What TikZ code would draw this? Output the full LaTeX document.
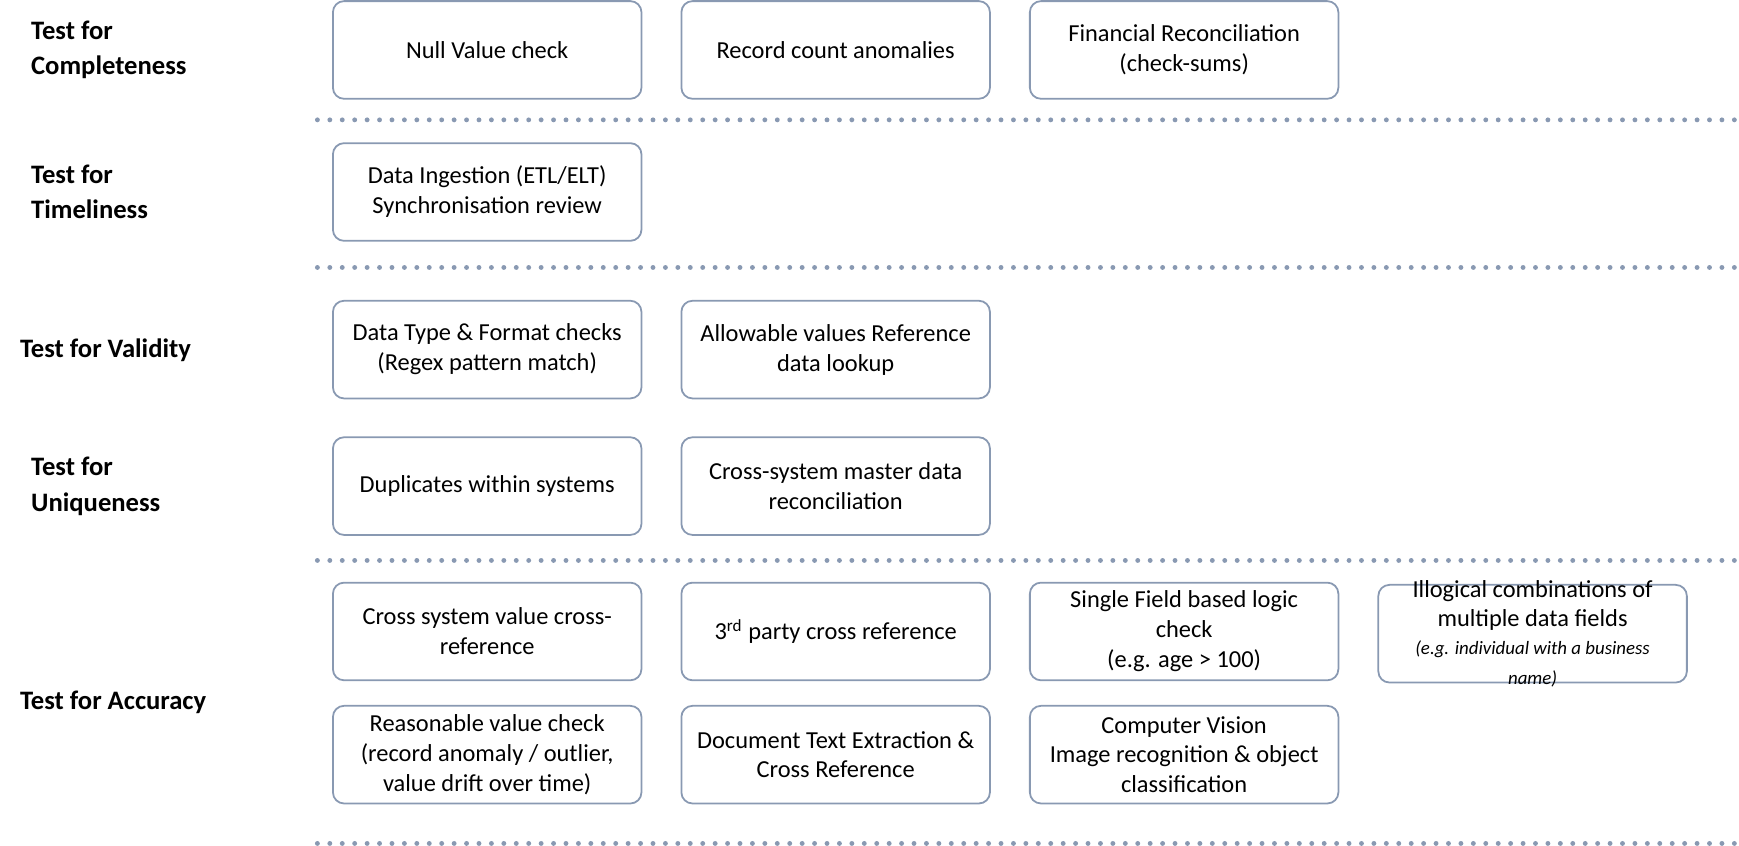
\documentclass[tikz,border=0pt]{standalone}
\usepackage{fontspec}
\setmainfont{Carlito}
\usepackage{tikz}
\definecolor{lin}{RGB}{137,153,178}
\begin{document}
\begin{tikzpicture}
    [x=0.5pt,y=-0.5pt,
     bx/.style={draw=lin,line width=0.8pt,rounded corners=5pt,minimum width=139pt,minimum height=44pt,align=center,font=\fontsize{11}{13.5}\selectfont,inner sep=1pt},
     hd/.style={anchor=west,align=left,font=\fontsize{12}{16}\selectfont\bfseries},
     sep/.style={lin,line width=2.2pt,line cap=round,dash pattern=on 0pt off 5.6pt}]
    \useasboundingbox (0,0) rectangle (1567,762);
    % headings
    \node[hd] (hcomp) at (21,45) {Test for\\Completeness};
    \node[hd] (htime) at (21,173) {Test for\\Timeliness};
    \node[hd] (hvalid) at (11,316) {Test for Validity};
    \node[hd] (huniq) at (21,438) {Test for\\Uniqueness};
    \node[hd] (hacc) at (11,633) {Test for Accuracy};
    % completeness
    \node[bx] (null) at (439,45) {Null Value check};
    \node[bx] (count) at (753,45) {Record count anomalies};
    \node[bx] (fin) at (1067,45) {Financial Reconciliation\\(check-sums)};
    % timeliness
    \node[bx] (ingest) at (439,173) {Data Ingestion (ETL/ELT)\\Synchronisation review};
    % validity
    \node[bx] (dtype) at (439,315) {Data Type \& Format checks\\(Regex pattern match)};
    \node[bx] (allow) at (753,315) {Allowable values Reference\\data lookup};
    % uniqueness
    \node[bx] (dup) at (439,438) {Duplicates within systems};
    \node[bx] (master) at (753,438) {Cross-system master data\\reconciliation};
    % accuracy
    \node[bx] (xsys) at (439,569) {Cross system value cross-\\reference};
    \node[bx] (third) at (753,569) {3\textsuperscript{rd} party cross reference};
    \node[bx] (single) at (1067,569) {Single Field based logic\\check\\(e.g. age > 100)};
    \node[bx,inner xsep=0pt,inner ysep=-5pt] (illog) at (1381,571) {Illogical combinations of\\multiple data fields\\[-1pt]\fontsize{8.5}{11}\selectfont\itshape (e.g. individual with a business\\\fontsize{8.5}{11}\selectfont\itshape name)};
    \node[bx] (reason) at (439,680) {Reasonable value check\\(record anomaly / outlier,\\value drift over time)};
    \node[bx] (doc) at (753,680) {Document Text Extraction \&\\Cross Reference};
    \node[bx] (vision) at (1067,680) {Computer Vision\\Image recognition \& object\\classification};
    % separators
    \foreach \y in {108,241,505,760}
        \draw[sep] (286,\y) -- (1567,\y);
\end{tikzpicture}
\end{document}
